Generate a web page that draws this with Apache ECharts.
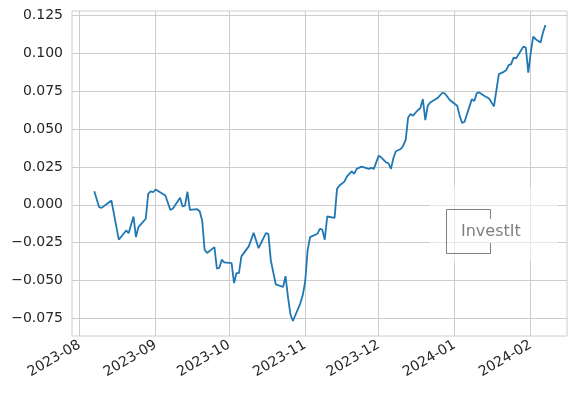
<!DOCTYPE html>
<html>
<head>
<meta charset="utf-8">
<script src="https://cdn.jsdelivr.net/npm/echarts@6/dist/echarts.min.js"></script>
<style>
html,body{margin:0;padding:0;background:#fff;}
#chart{width:577px;height:397px;}
</style>
</head>
<body>
<div id="chart"></div>
<script>
const dates = [
'2023-08-07','2023-08-09','2023-08-10','2023-08-14','2023-08-17','2023-08-20','2023-08-21','2023-08-23','2023-08-24','2023-08-25',
'2023-08-28','2023-08-29','2023-08-30','2023-08-31','2023-09-01','2023-09-05','2023-09-07','2023-09-08','2023-09-11','2023-09-12',
'2023-09-13','2023-09-14','2023-09-15','2023-09-18','2023-09-19','2023-09-20','2023-09-21','2023-09-22','2023-09-25','2023-09-26',
'2023-09-27','2023-09-28','2023-09-29','2023-10-02','2023-10-03','2023-10-04','2023-10-05','2023-10-06','2023-10-09','2023-10-11',
'2023-10-13','2023-10-16','2023-10-17','2023-10-18','2023-10-20','2023-10-23','2023-10-24','2023-10-25','2023-10-26','2023-10-27',
'2023-10-30','2023-10-31','2023-11-01','2023-11-02','2023-11-03','2023-11-06','2023-11-07','2023-11-08','2023-11-09','2023-11-10',
'2023-11-13','2023-11-14','2023-11-15','2023-11-17','2023-11-18','2023-11-20','2023-11-21','2023-11-22','2023-11-24','2023-11-27',
'2023-11-28','2023-11-29','2023-12-01','2023-12-02','2023-12-04','2023-12-05','2023-12-06','2023-12-07','2023-12-08','2023-12-10',
'2023-12-11','2023-12-12','2023-12-13','2023-12-14','2023-12-15','2023-12-17','2023-12-18','2023-12-19','2023-12-20','2023-12-21',
'2023-12-22','2023-12-25','2023-12-27','2023-12-28','2023-12-30','2024-01-02','2024-01-03','2024-01-04','2024-01-05','2024-01-08',
'2024-01-09','2024-01-10','2024-01-11','2024-01-13','2024-01-15','2024-01-17','2024-01-19','2024-01-21','2024-01-22','2024-01-23',
'2024-01-24','2024-01-25','2024-01-26','2024-01-29','2024-01-30','2024-01-31','2024-02-01','2024-02-02','2024-02-03','2024-02-05',
'2024-02-06','2024-02-07'
];
const values = [
0.0089,-0.0016,-0.0020,0.0028,-0.0230,-0.0169,-0.0187,-0.0077,-0.0213,-0.0147,
-0.0092,0.0072,0.0089,0.0083,0.0101,0.0061,-0.0033,-0.0026,0.0046,-0.0011,
-0.0005,0.0086,-0.0033,-0.0029,-0.0042,-0.0103,-0.0296,-0.0318,-0.0279,-0.0421,
-0.0415,-0.0362,-0.0380,-0.0384,-0.0516,-0.0450,-0.0450,-0.0340,-0.0274,-0.0184,
-0.0286,-0.0187,-0.0191,-0.0366,-0.0524,-0.0542,-0.0470,-0.0608,-0.0722,-0.0766,
-0.0651,-0.0597,-0.0509,-0.0301,-0.0213,-0.0191,-0.0158,-0.0164,-0.0230,-0.0077,
-0.0086,0.0105,0.0127,0.0153,0.0186,0.0221,0.0204,0.0237,0.0252,0.0237,
0.0243,0.0237,0.0324,0.0313,0.0280,0.0274,0.0237,0.0309,0.0353,0.0368,
0.0390,0.0428,0.0576,0.0599,0.0588,0.0625,0.0638,0.0697,0.0559,0.0653,
0.0675,0.0704,0.0739,0.0734,0.0691,0.0653,0.0588,0.0539,0.0548,0.0697,
0.0684,0.0737,0.0741,0.0719,0.0701,0.0649,0.0862,0.0877,0.0888,0.0921,
0.0928,0.0971,0.0965,0.1043,0.1037,0.0872,0.1004,0.1109,0.1092,0.1070,
0.1136,0.1186
];
const yTicks = [-0.075,-0.05,-0.025,0,0.025,0.05,0.075,0.1,0.125];
const xTickLabels = ['2023-08','2023-09','2023-10','2023-11','2023-12','2024-01','2024-02'];

function parseD(s){const p=s.split('-').map(Number);return Date.UTC(p[0],p[1]-1,p[2]||1);}
const xTicks = xTickLabels.map(parseD);
const seriesData = dates.map((d,i)=>[parseD(d),values[i]]);

const chart = echarts.init(document.getElementById('chart'), null, {renderer:'canvas'});
const labelColor = '#262626';
const gridColor = '#cccccc';
chart.setOption({
  animation:false,
  backgroundColor:'#ffffff',
  grid:{left:72,top:11,right:10,bottom:61,show:true,borderColor:gridColor,borderWidth:1,backgroundColor:'transparent'},
  xAxis:{
    type:'value',
    min:Date.UTC(2023,6,28,22),
    max:Date.UTC(2024,1,15,19),
    axisLine:{show:false},
    axisTick:{show:false,customValues:xTicks},
    splitLine:{show:true,lineStyle:{color:gridColor,width:1}},
    axisLabel:{
      customValues:xTicks,
      rotate:30,
      margin:8,
      fontFamily:'DejaVu Sans',
      fontSize:14,
      color:labelColor,
      formatter:function(v){const d=new Date(v);const m=d.getUTCMonth()+1;return d.getUTCFullYear()+'-'+(m<10?'0'+m:m);}
    }
  },
  yAxis:{
    type:'value',
    min:-0.0865,
    max:0.1278,
    axisLine:{show:false},
    axisTick:{show:false,customValues:yTicks},
    splitLine:{show:true,lineStyle:{color:gridColor,width:1}},
    axisLabel:{
      customValues:yTicks,
      margin:9,
      fontFamily:'DejaVu Sans',
      fontSize:14,
      color:labelColor,
      formatter:function(v){return v.toFixed(3).replace('-','\u2212');}
    }
  },
  series:[{
    type:'line',
    data:seriesData,
    showSymbol:false,
    symbol:'none',
    lineStyle:{color:'#1f77b4',width:1.8},
    z:3
  }],
  graphic:[
    {type:'rect',shape:{x:430,y:187,width:128,height:74},style:{fill:'rgba(255,255,255,0.55)'},z:10},
    {type:'polyline',shape:{points:[[490.5,219],[490.5,209.5],[446.5,209.5],[446.5,253.5],[490.5,253.5],[490.5,243]]},style:{stroke:'#808080',lineWidth:1,fill:null},z:11},
    {type:'text',style:{x:461,y:232,text:'InvestIt',fontFamily:'DejaVu Sans',fontSize:16,fill:'#808080',verticalAlign:'middle'},z:11}
  ]
});
</script>
</body>
</html>
